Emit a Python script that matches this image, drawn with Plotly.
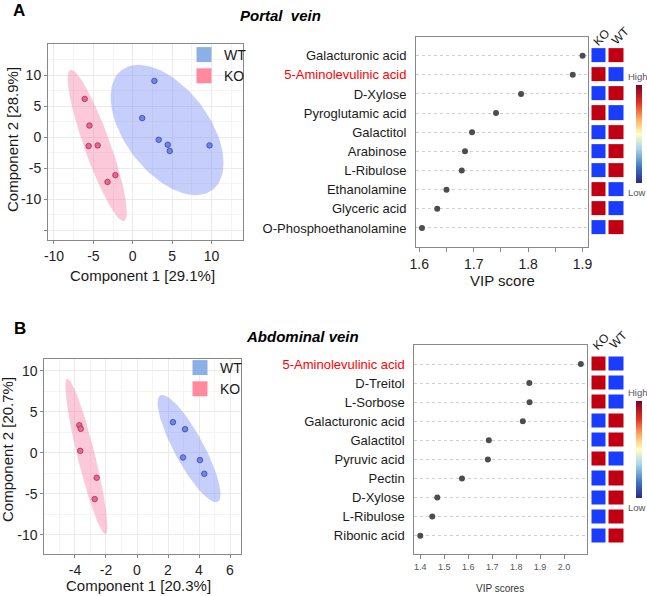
import numpy as np
import plotly.graph_objects as go

W, H = 647, 596
FONT = "Liberation Sans, Arial, sans-serif"

# ---------------- data ----------------
groups = ["KO", "WT"]
highlight = "5-Aminolevulinic acid"

# Panel A (portal vein) PLS-DA scores
a_wt_x = [2.75, 1.2, 3.3, 4.45, 4.7, 9.75]
a_wt_y = [9.1, 3.1, -0.4, -1.2, -2.2, -1.3]
a_ko_x = [-6.1, -5.5, -5.6, -4.45, -2.2, -3.2]
a_ko_y = [6.2, 1.9, -1.4, -1.3, -6.1, -7.2]

# Panel A VIP
a_metabolites = ["Galacturonic acid", "5-Aminolevulinic acid", "D-Xylose", "Pyroglutamic acid",
                 "Galactitol", "Arabinose", "L-Ribulose", "Ethanolamine", "Glyceric acid",
                 "O-Phosphoethanolamine"]
a_vip = [1.900, 1.882, 1.787, 1.741, 1.697, 1.684, 1.678, 1.650, 1.633, 1.605]
a_ko_level = [0, 1, 0, 1, 0, 0, 0, 1, 1, 0]
a_wt_level = [1, 0, 1, 0, 1, 1, 1, 0, 0, 1]

# Panel B (abdominal vein) PLS-DA scores
b_wt_x = [2.32, 3.1, 2.97, 4.06, 4.34]
b_wt_y = [3.74, 2.89, -0.57, -0.89, -2.56]
b_ko_x = [-3.72, -3.63, -3.66, -2.6, -2.73]
b_ko_y = [3.37, 2.93, 0.24, -3.05, -5.65]

# Panel B VIP
b_metabolites = ["5-Aminolevulinic acid", "D-Treitol", "L-Sorbose", "Galacturonic acid",
                 "Galactitol", "Pyruvic acid", "Pectin", "D-Xylose", "L-Ribulose", "Ribonic acid"]
b_vip = [2.070, 1.855, 1.856, 1.828, 1.686, 1.682, 1.574, 1.471, 1.450, 1.400]
b_ko_level = [1, 1, 1, 0, 0, 1, 0, 0, 0, 0]
b_wt_level = [0, 0, 0, 1, 1, 0, 1, 1, 1, 1]

# ---------------- styles ----------------
WT_LEG, KO_LEG = "#8AB0E6", "#FF8A9E"
WT_PT, KO_PT = "#6F84EC", "#E9668C"
WT_PT_LINE, KO_PT_LINE = "#3545A8", "#A3304F"
WT_ELL, KO_ELL = "rgba(120,140,245,0.42)", "rgba(245,120,160,0.40)"
CELL_BLUE, CELL_RED = "#1A3CFF", "#C00012"
CBAR = [[0, "#2A2A80"], [0.15, "#3A6FC0"], [0.35, "#A8D8EA"], [0.5, "#FFFFC0"],
        [0.65, "#FDAE61"], [0.82, "#E0301E"], [1, "#800026"]]
BOX = "#888888"


def dx(a, b):
    return [a / W, b / W]


def dy(top, bottom):
    return [1 - bottom / H, 1 - top / H]


def conf_ellipse(x, y, level=0.95, n=120):
    x = np.asarray(x, float)
    y = np.asarray(y, float)
    L = np.linalg.cholesky(np.cov(x, y))
    t = np.sqrt(-2 * np.log(1 - level))
    th = np.linspace(0, 2 * np.pi, n)
    e = t * (L @ np.vstack([np.cos(th), np.sin(th)]))
    return x.mean() + e[0], y.mean() + e[1]


fig = go.Figure()


def add_scores(wx, wy, kx, ky, xa, ya, leg):
    for (x, y, fc) in [(kx, ky, KO_ELL), (wx, wy, WT_ELL)]:
        ex, ey = conf_ellipse(x, y)
        fig.add_trace(go.Scatter(x=ex, y=ey, mode="lines", fill="toself", fillcolor=fc,
                                 line=dict(width=0), hoverinfo="skip", showlegend=False,
                                 xaxis=xa, yaxis=ya))
    for (x, y, c, lc) in [(wx, wy, WT_PT, WT_PT_LINE), (kx, ky, KO_PT, KO_PT_LINE)]:
        fig.add_trace(go.Scatter(x=x, y=y, mode="markers",
                                 marker=dict(size=5.5, color=c, line=dict(width=0.8, color=lc)),
                                 showlegend=False, xaxis=xa, yaxis=ya))
    for name, c in [("WT", WT_LEG), ("KO", KO_LEG)]:
        fig.add_trace(go.Scatter(x=[None], y=[None], mode="markers", name=name,
                                 marker=dict(symbol="square", size=15, color=c),
                                 legend=leg, xaxis=xa, yaxis=ya))


def add_vip(names, vip, ko, wt, xa, ya, xh, yh, cb_center, cb_len):
    fig.add_trace(go.Scatter(x=vip, y=list(range(len(names))), mode="markers",
                             marker=dict(size=6, color="#4D4D4D"), showlegend=False,
                             xaxis=xa, yaxis=ya))
    z = [[k, w] for k, w in zip(ko, wt)]
    fig.add_trace(go.Heatmap(z=z, x=[0, 1], y=list(range(len(names))),
                             colorscale=[[0, CELL_BLUE], [1, CELL_RED]], zmin=0, zmax=1,
                             showscale=False, xgap=3, ygap=5, xaxis=xh, yaxis=yh,
                             hoverinfo="skip"))
    fig.add_trace(go.Scatter(x=[None], y=[None], mode="markers", showlegend=False,
                             marker=dict(color=[0.5], cmin=0, cmax=1, colorscale=CBAR,
                                         showscale=True,
                                         colorbar=dict(thickness=6, thicknessmode="pixels",
                                                       len=cb_len / H, lenmode="fraction",
                                                       x=636 / W, xanchor="left",
                                                       y=1 - cb_center / H, yanchor="middle",
                                                       xpad=0, ypad=0, outlinewidth=0,
                                                       showticklabels=False, ticks="")),
                             xaxis=xh, yaxis=yh))


add_scores(a_wt_x, a_wt_y, a_ko_x, a_ko_y, "x", "y", "legend")
add_vip(a_metabolites, a_vip, a_ko_level, a_wt_level, "x2", "y2", "x3", "y3", 134, 98)
add_scores(b_wt_x, b_wt_y, b_ko_x, b_ko_y, "x4", "y4", "legend2")
add_vip(b_metabolites, b_vip, b_ko_level, b_wt_level, "x5", "y5", "x6", "y6", 449.4, 97)


def scat_axis(domain, rng, tv, tt, anchor, minor_dt):
    return dict(domain=domain, range=rng, anchor=anchor, tickmode="array", tickvals=tv,
                ticktext=tt, ticks="outside", ticklen=3, tickcolor=BOX,
                tickfont=dict(size=14, color="#222", family=FONT),
                showline=True, mirror=True, linecolor=BOX, linewidth=1,
                showgrid=True, gridcolor="#EBEBEB", gridwidth=1, zeroline=False,
                automargin=False,
                minor=dict(showgrid=True, gridcolor="#F4F4F4", tick0=0, dtick=minor_dt))


def label_text(n):
    if n == highlight:
        return '<span style="color:#FF0000">' + n + '</span>'
    return n


def vip_y(domain, names, rng, anchor):
    return dict(domain=domain, range=rng, anchor=anchor, tickmode="array",
                tickvals=list(range(len(names))), ticktext=[label_text(n) for n in names],
                tickfont=dict(size=13, color="#1A1A1A", family=FONT), ticks="",
                ticklabelstandoff=6, automargin=False,
                showline=True, mirror=True, linecolor=BOX, linewidth=1,
                showgrid=True, gridcolor="#CFCFCF", griddash="dot", zeroline=False)


def hidden(domain, rng, anchor):
    return dict(domain=domain, range=rng, anchor=anchor, visible=False, fixedrange=True)


layout = dict(
    width=W, height=H, autosize=False,
    margin=dict(l=0, r=0, t=0, b=0, pad=0, autoexpand=False),
    paper_bgcolor="white", plot_bgcolor="white", font=dict(family=FONT, color="#1A1A1A"),
    xaxis=scat_axis(dx(48, 243), [-10.76, 14.0], [-10, -5, 0, 5, 10],
                    ["-10", "-5", "0", "5", "10"], "y", 2.5),
    yaxis=scat_axis(dy(44, 240), [-16.56, 15.05], [-15, -10, -5, 0, 5, 10],
                    ["", "-10", "-5", "0", "5", "10"], "x", 2.5),
    xaxis2=dict(domain=dx(416, 588), range=[1.594, 1.91], anchor="y2", tickmode="array",
                tickvals=[1.6, 1.7, 1.8, 1.9], ticktext=["1.6", "1.7", "1.8", "1.9"],
                ticks="outside", ticklen=4, tickcolor=BOX, automargin=False,
                tickfont=dict(size=14, color="#222", family=FONT),
                minor=dict(ticks="outside", ticklen=4, tickcolor=BOX, tick0=1.6, dtick=0.05),
                showline=True, mirror=True, linecolor=BOX, showgrid=False, zeroline=False),
    yaxis2=vip_y(dy(36.7, 246.7), a_metabolites, [9.98, -0.99], "x2"),
    xaxis3=hidden(dx(590.5, 625), [-0.5, 1.5], "y3"),
    yaxis3=hidden(dy(36.7, 246.7), [9.98, -0.99], "x3"),
    xaxis4=scat_axis(dx(44.3, 240.7), [-5.98, 6.69], [-4, -2, 0, 2, 4, 6],
                     ["-4", "-2", "0", "2", "4", "6"], "y4", 1),
    yaxis4=scat_axis(dy(359, 554), [-12.36, 11.46], [-10, -5, 0, 5, 10],
                     ["-10", "-5", "0", "5", "10"], "x4", 2.5),
    xaxis5=dict(domain=dx(414.3, 587.3), range=[1.375, 2.097], anchor="y5", tickmode="array",
                tickvals=[1.4, 1.5, 1.6, 1.7, 1.8, 1.9, 2.0],
                ticktext=["1.4", "1.5", "1.6", "1.7", "1.8", "1.9", "2.0"],
                ticks="outside", ticklen=4, tickcolor=BOX, automargin=False,
                tickfont=dict(size=9, color="#555", family=FONT),
                showline=True, mirror=True, linecolor=BOX, showgrid=False, zeroline=False),
    yaxis5=vip_y(dy(345, 554.3), b_metabolites, [9.975, -0.996], "x5"),
    xaxis6=hidden(dx(590.5, 625), [-0.5, 1.5], "y6"),
    yaxis6=hidden(dy(345, 554.3), [9.975, -0.996], "x6"),
    legend=dict(x=184 / W, y=1 - 39 / H, xanchor="left", yanchor="top",
                bgcolor="rgba(0,0,0,0)", font=dict(size=14, color="#1A1A1A"),
                tracegroupgap=0, itemwidth=30),
    legend2=dict(x=180 / W, y=1 - 352 / H, xanchor="left", yanchor="top",
                 bgcolor="rgba(0,0,0,0)", font=dict(size=14, color="#1A1A1A"),
                 tracegroupgap=0, itemwidth=30),
)


def ann(text, px, py, size, color="#1A1A1A", angle=0, xanchor="center"):
    return dict(text=text, x=px / W, y=1 - py / H, xref="paper", yref="paper",
                showarrow=False, xanchor=xanchor, yanchor="middle", textangle=angle,
                font=dict(size=size, color=color, family=FONT))


annotations = [
    ann("<b>A</b>", 19, 10, 17, "#000"),
    ann("<b>B</b>", 20, 328, 17, "#000"),
    ann("<b><i>Portal\u00a0 vein</i></b>", 280, 15, 15, "#000"),
    ann("<b><i>Abdominal vein</i></b>", 302, 336, 15, "#000"),
    ann("Component 1 [29.1%]", 142, 275, 15),
    ann("Component 2 [28.9%]", 12, 140, 15, angle=-90),
    ann("Component 1 [20.3%]", 138, 585, 15),
    ann("Component 2 [20.7%]", 7, 450, 15, angle=-90),
    ann("VIP score", 502, 280, 15),
    ann("VIP scores", 500, 588, 10, "#333"),
    ann(groups[0], 601, 38, 12, angle=-45),
    ann(groups[1], 620, 36, 12, angle=-45),
    ann(groups[0], 600.5, 341.5, 12, angle=-45),
    ann(groups[1], 618, 340, 12, angle=-45),
    ann("High", 638, 77, 9.5, "#555"),
    ann("Low", 637, 192, 9.5, "#555"),
    ann("High", 638, 392, 9.5, "#555"),
    ann("Low", 637, 507, 9.5, "#555"),
]
layout["annotations"] = annotations

fig.update_layout(**layout)
fig.write_html("out.html", config={"displayModeBar": False},
               post_script="document.body.style.margin='0';document.body.style.padding='0';")
